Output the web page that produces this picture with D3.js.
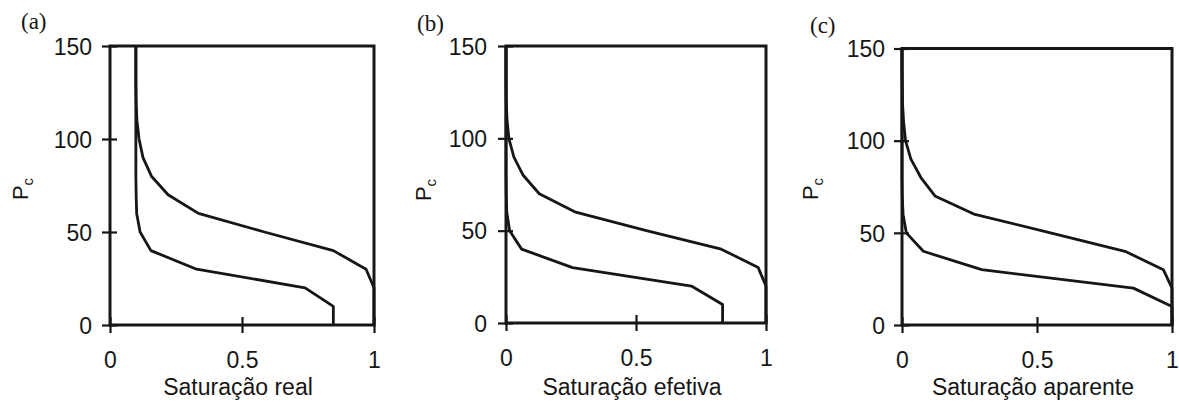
<!DOCTYPE html>
<html>
<head>
<meta charset="utf-8">
<script src="https://cdn.jsdelivr.net/npm/d3@7"></script>
<style>
  html, body { margin: 0; padding: 0; background: #fff; }
  svg { display: block; }
  text { fill: #161616; }
</style>
</head>
<body>
<svg id="chart" width="1179" height="403"></svg>
<script>
// ---- data ----
const pressure = [0, 10, 20, 30, 40, 50, 60, 70, 80, 90, 100, 110, 120, 130, 140, 150];

const realUpper  = [1.0, 1.0, 1.0, 0.97, 0.846, 0.585, 0.335, 0.22, 0.157, 0.125, 0.11, 0.102, 0.099, 0.098, 0.098, 0.098];
const realLower  = [0.846, 0.846, 0.739, 0.328, 0.155, 0.114, 0.101, 0.099, 0.098, 0.098, 0.098, 0.098, 0.098, 0.098, 0.098, 0.098];

const efetUpper  = [1.0, 1.0, 1.0, 0.97, 0.828, 0.54, 0.268, 0.128, 0.066, 0.03, 0.011, 0.004, 0.001, 0.0, 0.0, 0.0];
const efetLower  = [0.833, 0.833, 0.713, 0.256, 0.06, 0.014, 0.003, 0.001, 0.0, 0.0, 0.0, 0.0, 0.0, 0.0, 0.0, 0.0];

const aparUpper  = [1.0, 1.0, 1.0, 0.968, 0.826, 0.55, 0.27, 0.122, 0.07, 0.033, 0.013, 0.006, 0.002, 0.001, 0.0, 0.0];
const aparLower  = [1.0, 1.0, 0.857, 0.295, 0.079, 0.016, 0.004, 0.001, 0.0, 0.0, 0.0, 0.0, 0.0, 0.0, 0.0, 0.0];

const panelTags   = ["(a)", "(b)", "(c)"];
const xTitles     = ["Saturação real", "Saturação efetiva", "Saturação aparente"];
const xTickValues = [0, 0.5, 1];
const xTickLabels = ["0", "0.5", "1"];
const yTickValues = [0, 50, 100, 150];
const yTickLabels = ["0", "50", "100", "150"];
const yTitle      = "P";
const yTitleSub   = "c";

const seriesByPanel = [
  [realUpper, realLower],
  [efetUpper, efetLower],
  [aparUpper, aparLower]
];

// ---- layout (positions only) ----
const layout = [
  { left: 110, right: 374,  top: 46,   bottom: 325, tagX: 21,  tagY: 29, yTitleX: 28,  yTitleY: 189, labelGap: 18 },
  { left: 506, right: 766,  top: 46,   bottom: 323, tagX: 417, tagY: 31, yTitleX: 431, yTitleY: 190, labelGap: 19 },
  { left: 902, right: 1172, top: 48.5, bottom: 325, tagX: 810, tagY: 33, yTitleX: 818, yTitleY: 189, labelGap: 17 }
];

const ink = "#161616";
const svg = d3.select("#chart");

layout.forEach((L, i) => {
  const x = d3.scaleLinear().domain([0, 1]).range([L.left, L.right]);
  const y = d3.scaleLinear().domain([0, 150]).range([L.bottom, L.top]);
  const g = svg.append("g");

  // curves
  const line = d3.line()
    .x(d => x(d[0]))
    .y(d => y(d[1]))
    .curve(d3.curveLinear);

  seriesByPanel[i].forEach(vals => {
    const pts = vals.map((v, k) => [v, pressure[k]]);
    g.append("path")
      .datum(pts)
      .attr("d", line)
      .attr("fill", "none")
      .attr("stroke", ink)
      .attr("stroke-width", 2.8)
      .attr("stroke-linejoin", "round");
  });

  // frame
  g.append("rect")
    .attr("x", L.left).attr("y", L.top)
    .attr("width", L.right - L.left).attr("height", L.bottom - L.top)
    .attr("fill", "none").attr("stroke", ink).attr("stroke-width", 3);

  // y axis: outer ticks with labels
  const yAxisOut = d3.axisLeft(y).tickValues(yTickValues)
    .tickFormat((d, k) => yTickLabels[k]).tickSizeInner(8).tickSizeOuter(0).tickPadding(L.labelGap - 8);
  const gy = g.append("g").attr("transform", `translate(${L.left},0)`).call(yAxisOut);
  // inner ticks (crossing)
  const yAxisIn = d3.axisRight(y).tickValues(yTickValues).tickFormat("").tickSizeInner(7).tickSizeOuter(0);
  const gyi = g.append("g").attr("transform", `translate(${L.left},0)`).call(yAxisIn);

  // x axis
  const xAxisOut = d3.axisBottom(x).tickValues(xTickValues)
    .tickFormat((d, k) => xTickLabels[k]).tickSizeInner(8).tickSizeOuter(0).tickPadding(19);
  const gx = g.append("g").attr("transform", `translate(0,${L.bottom})`).call(xAxisOut);
  const xAxisIn = d3.axisTop(x).tickValues(xTickValues).tickFormat("").tickSizeInner(8).tickSizeOuter(0);
  const gxi = g.append("g").attr("transform", `translate(0,${L.bottom})`).call(xAxisIn);

  [gy, gyi, gx, gxi].forEach(a => {
    a.select(".domain").remove();
    a.selectAll(".tick line").attr("stroke", ink).attr("stroke-width", 2.2);
    a.selectAll(".tick text")
      .attr("fill", ink)
      .style("font-family", "'Liberation Sans', Arial, sans-serif")
      .style("font-size", "23px");
  });
  gy.selectAll(".tick text").attr("dy", "0.36em");
  gx.selectAll(".tick text").attr("dy", "0.71em");

  // x title
  g.append("text")
    .attr("x", (L.left + L.right) / 2 - 4)
    .attr("y", 395)
    .attr("text-anchor", "middle")
    .style("font-family", "'Liberation Sans', Arial, sans-serif")
    .style("font-size", "23px")
    .text(xTitles[i]);

  // y title with subscript
  const yt = g.append("text")
    .attr("transform", `translate(${L.yTitleX},${L.yTitleY}) rotate(-90)`)
    .attr("text-anchor", "middle")
    .style("font-family", "'Liberation Sans', Arial, sans-serif")
    .style("font-size", "22px");
  yt.append("tspan").text(yTitle);
  yt.append("tspan").attr("dy", 5).style("font-size", "15px").text(yTitleSub);

  // panel tag
  g.append("text")
    .attr("x", L.tagX).attr("y", L.tagY)
    .style("font-family", "'Liberation Serif', 'Times New Roman', serif")
    .style("font-size", "23px")
    .text(panelTags[i]);
});
</script>
</body>
</html>
